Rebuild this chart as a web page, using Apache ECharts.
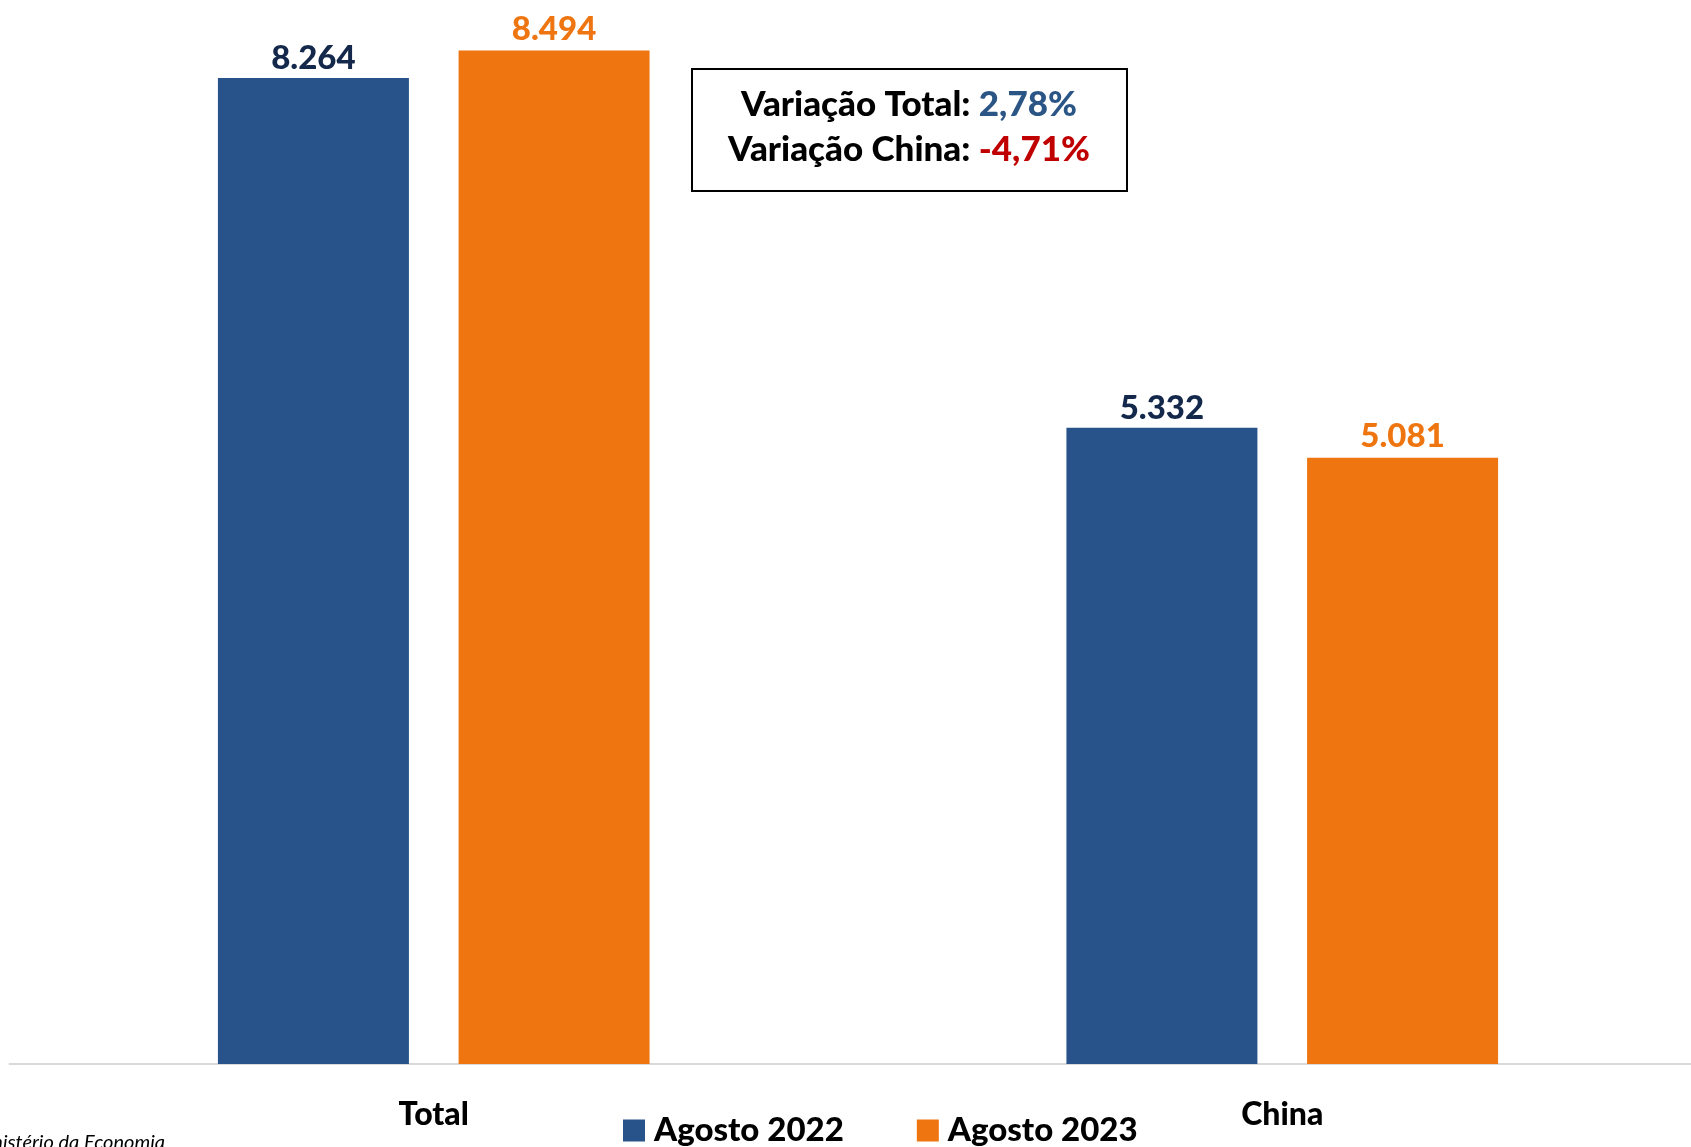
<!DOCTYPE html>
<html>
<head>
<meta charset="utf-8">
<script src="https://cdn.jsdelivr.net/npm/echarts@6/dist/echarts.min.js"></script>
<style>
  html, body { margin: 0; padding: 0; background: #fff; overflow: hidden; }
  #chart-container { width: 1710px; height: 1147px; }
</style>
</head>
<body>
<div id="chart-container"></div>
<script>
// dados do gráfico
const categorias = ['Total', 'China'];
const agosto2022 = [8264, 5332];
const agosto2023 = [8494, 5081];
const nomesSeries = ['Agosto 2022', 'Agosto 2023'];
const variacoes = [
  { nome: 'Variação Total: ', valor: '2,78%', estilo: 'pos' },
  { nome: 'Variação China: ', valor: '-4,71%', estilo: 'neg' }
];
const fonte = 'Fonte: Ministério da Economia';

const AZUL = '#27538A';
const LARANJA = '#EF7511';
const FONT = 'Lato, "Open Sans", sans-serif';

const fmt = v => v.toLocaleString('de-DE');

const container = document.getElementById('chart-container');
const chart = echarts.init(container);

const valueLabel = (color, dist) => ({
  show: true,
  position: 'top',
  distance: dist,
  color: color,
  fontFamily: FONT,
  fontWeight: 900,
  fontSize: 33,
  formatter: p => fmt(p.value)
});

const option = {
  backgroundColor: '#ffffff',
  animation: false,
  grid: { left: 9.5, width: 1697, top: 2, bottom: 83 },
  legend: {
    data: nomesSeries,
    left: 618,
    top: 1109,
    icon: 'rect',
    itemWidth: 22,
    itemHeight: 22,
    itemGap: 73,
    textStyle: {
      color: '#000',
      fontFamily: FONT,
      fontWeight: 900,
      fontSize: 33,
      padding: [0, 0, 0, 4]
    }
  },
  xAxis: {
    type: 'category',
    data: categorias,
    axisLine: { lineStyle: { color: '#d9d9d9', width: 2 } },
    axisTick: { show: false },
    axisLabel: {
      color: '#000',
      fontFamily: FONT,
      fontWeight: 900,
      fontSize: 32,
      margin: 35
    }
  },
  yAxis: {
    type: 'value',
    min: 0,
    max: 8900,
    show: false,
    splitLine: { show: false }
  },
  series: [
    {
      name: nomesSeries[0],
      type: 'bar',
      data: agosto2022,
      barWidth: 191,
      barGap: '26%',
      itemStyle: { color: AZUL },
      label: valueLabel('#14284B', 3)
    },
    {
      name: nomesSeries[1],
      type: 'bar',
      data: agosto2023,
      barWidth: 191,
      barGap: '26%',
      itemStyle: { color: LARANJA },
      label: valueLabel(LARANJA, 5)
    }
  ],
  graphic: [
    {
      type: 'rect',
      shape: { x: 692, y: 69, width: 435, height: 122 },
      style: { fill: '#fff', stroke: '#000', lineWidth: 2 }
    },
    {
      type: 'text',
      x: 909,
      y: 127,
      style: {
        text: variacoes.map(v => '{lbl|' + v.nome + '}{' + v.estilo + '|' + v.valor + '}').join('\n'),
        align: 'center',
        verticalAlign: 'middle',
        lineHeight: 45,
        rich: {
          lbl: { fontFamily: FONT, fontWeight: 900, fontSize: 35, fill: '#000', lineHeight: 45 },
          pos: { fontFamily: FONT, fontWeight: 900, fontSize: 35, fill: '#2A5585', lineHeight: 45 },
          neg: { fontFamily: FONT, fontWeight: 900, fontSize: 35, fill: '#C00000', lineHeight: 45 }
        }
      }
    },
    {
      type: 'text',
      x: 165,
      y: 1153,
      style: {
        text: fonte,
        align: 'right',
        verticalAlign: 'bottom',
        fontFamily: FONT,
        fontStyle: 'italic',
        fontSize: 20,
        fill: '#000'
      }
    }
  ]
};

chart.setOption(option);
window.addEventListener('resize', () => chart.resize());
</script>
</body>
</html>
